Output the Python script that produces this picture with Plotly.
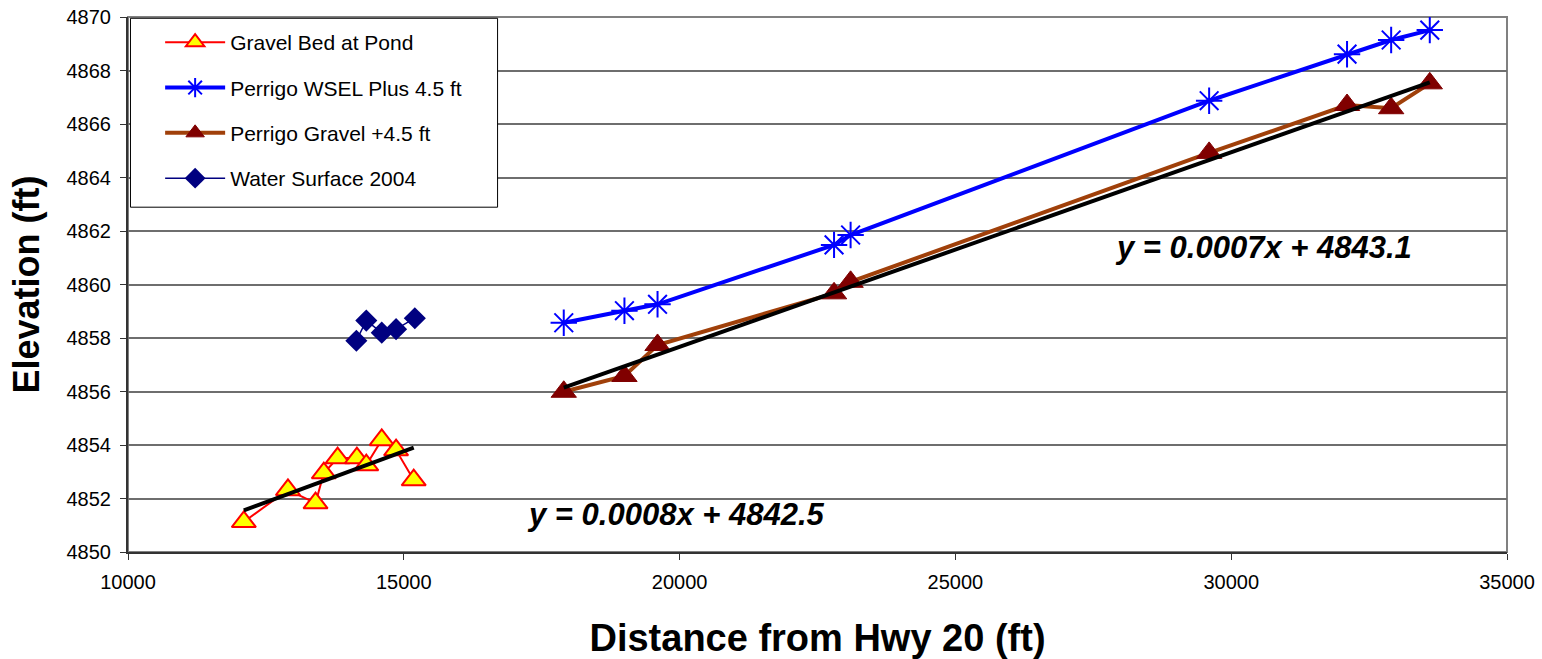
import numpy as np
import plotly.graph_objects as go

# ---------------- data ----------------
gravel_x = [12100, 12900, 13400, 13550, 13800, 14150, 14320, 14600, 14860, 15180]
gravel_y = [4851.13, 4852.32, 4851.83, 4852.95, 4853.51, 4853.51, 4853.25, 4854.19, 4853.81, 4852.69]

water_x = [14140, 14320, 14600, 14860, 15200]
water_y = [4857.90, 4858.65, 4858.20, 4858.33, 4858.74]

perrigo_x = [17900, 19000, 19600, 22800, 23100, 29600, 32100, 32900, 33600]
wsel_y = [4858.57, 4859.02, 4859.26, 4861.48, 4861.85, 4866.87, 4868.61, 4869.14, 4869.51]
pgravel_y = [4855.99, 4856.58, 4857.74, 4859.67, 4860.10, 4864.92, 4866.71, 4866.59, 4867.52]

trend_labels = ["y = 0.0007x + 4843.1", "y = 0.0008x + 4842.5"]

x_ticks = [10000, 15000, 20000, 25000, 30000, 35000]
y_ticks = list(range(4850, 4871, 2))

FONT = "Liberation Sans, Arial, sans-serif"

fig = go.Figure()

fig.add_trace(go.Scatter(
    x=gravel_x, y=gravel_y, mode="lines+markers", name="Gravel Bed at Pond",
    line=dict(color="#FF0000", width=2),
    marker=dict(symbol="triangle-up", size=21, color="#FFFF00",
                line=dict(color="#FF0000", width=2)),
    legendgroup="a"))

fig.add_trace(go.Scatter(
    x=perrigo_x, y=wsel_y, mode="lines+markers", name="Perrigo WSEL Plus 4.5 ft",
    line=dict(color="#0000FF", width=4),
    marker=dict(symbol="asterisk-open", size=22, color="#0000FF",
                line=dict(color="#0000FF", width=2)),
    legendgroup="b"))

fig.add_trace(go.Scatter(
    x=perrigo_x, y=pgravel_y, mode="lines+markers", name="Perrigo Gravel +4.5 ft",
    line=dict(color="#A0400A", width=4),
    marker=dict(symbol="triangle-up", size=22, color="#800000",
                line=dict(color="#800000", width=1)),
    legendgroup="c"))

fig.add_trace(go.Scatter(
    x=water_x, y=water_y, mode="lines+markers", name="Water Surface 2004",
    line=dict(color="#000080", width=1.5),
    marker=dict(symbol="diamond", size=17, color="#000080"),
    legendgroup="d"))

# least-squares trendlines over each series' x range
for xs, ys in [(gravel_x, gravel_y), (perrigo_x, pgravel_y)]:
    m, b = np.polyfit(xs, ys, 1)
    tx = [min(xs), max(xs)]
    fig.add_trace(go.Scatter(
        x=tx, y=[m * v + b for v in tx], mode="lines",
        line=dict(color="#000000", width=4), showlegend=False, hoverinfo="skip"))

fig.add_annotation(x=30580, y=4861.4, text="<b><i>" + trend_labels[0] + "</i></b>",
                   showarrow=False, font=dict(family=FONT, size=31, color="#000000"))
fig.add_annotation(x=19930, y=4851.4, text="<b><i>" + trend_labels[1] + "</i></b>",
                   showarrow=False, font=dict(family=FONT, size=31, color="#000000"))

# gray plot-area border
fig.add_shape(type="rect", xref="paper", yref="paper", x0=0, y0=0, x1=1, y1=1,
              line=dict(color="#808080", width=2), layer="below")
# legend box
fig.add_shape(type="rect", xref="paper", yref="paper", x0=0.0018, y0=0.6445,
              x1=0.268, y1=0.9976, line=dict(color="#000000", width=1),
              fillcolor="white", layer="above")

fig.update_layout(
    width=1542, height=659,
    margin=dict(l=128, r=35, t=17, b=107, autoexpand=False),
    paper_bgcolor="white", plot_bgcolor="white",
    font=dict(family=FONT, color="#000000"),
    showlegend=True,
    legend=dict(x=0.0233, y=0.9905, xanchor="left", yanchor="top",
                bgcolor="rgba(0,0,0,0)", borderwidth=0,
                font=dict(family=FONT, size=21), itemwidth=60,
                tracegroupgap=15),
)

fig.update_xaxes(
    range=[10000, 35000], tickvals=x_ticks, ticktext=[str(v) for v in x_ticks],
    showgrid=False, zeroline=False, showline=True, linecolor="#333333", linewidth=2,
    ticks="outside", ticklen=6, tickcolor="#333333", automargin=False,
    tickfont=dict(family=FONT, size=20), ticklabelstandoff=5,
    title=dict(text="<b>Distance from Hwy 20 (ft)</b>",
               font=dict(family=FONT, size=38), standoff=36))

fig.update_yaxes(
    range=[4850, 4870], tickvals=y_ticks, ticktext=[str(v) for v in y_ticks],
    showgrid=True, gridcolor="#6e6e6e", gridwidth=1.5,
    zeroline=False, showline=True, linecolor="#333333", linewidth=2,
    ticks="outside", ticklen=6, tickcolor="#333333", automargin=False,
    tickfont=dict(family=FONT, size=20), ticklabelstandoff=5,
    title=dict(text="<b>Elevation (ft)</b>",
               font=dict(family=FONT, size=36), standoff=16))

fig.write_html("out.html")
